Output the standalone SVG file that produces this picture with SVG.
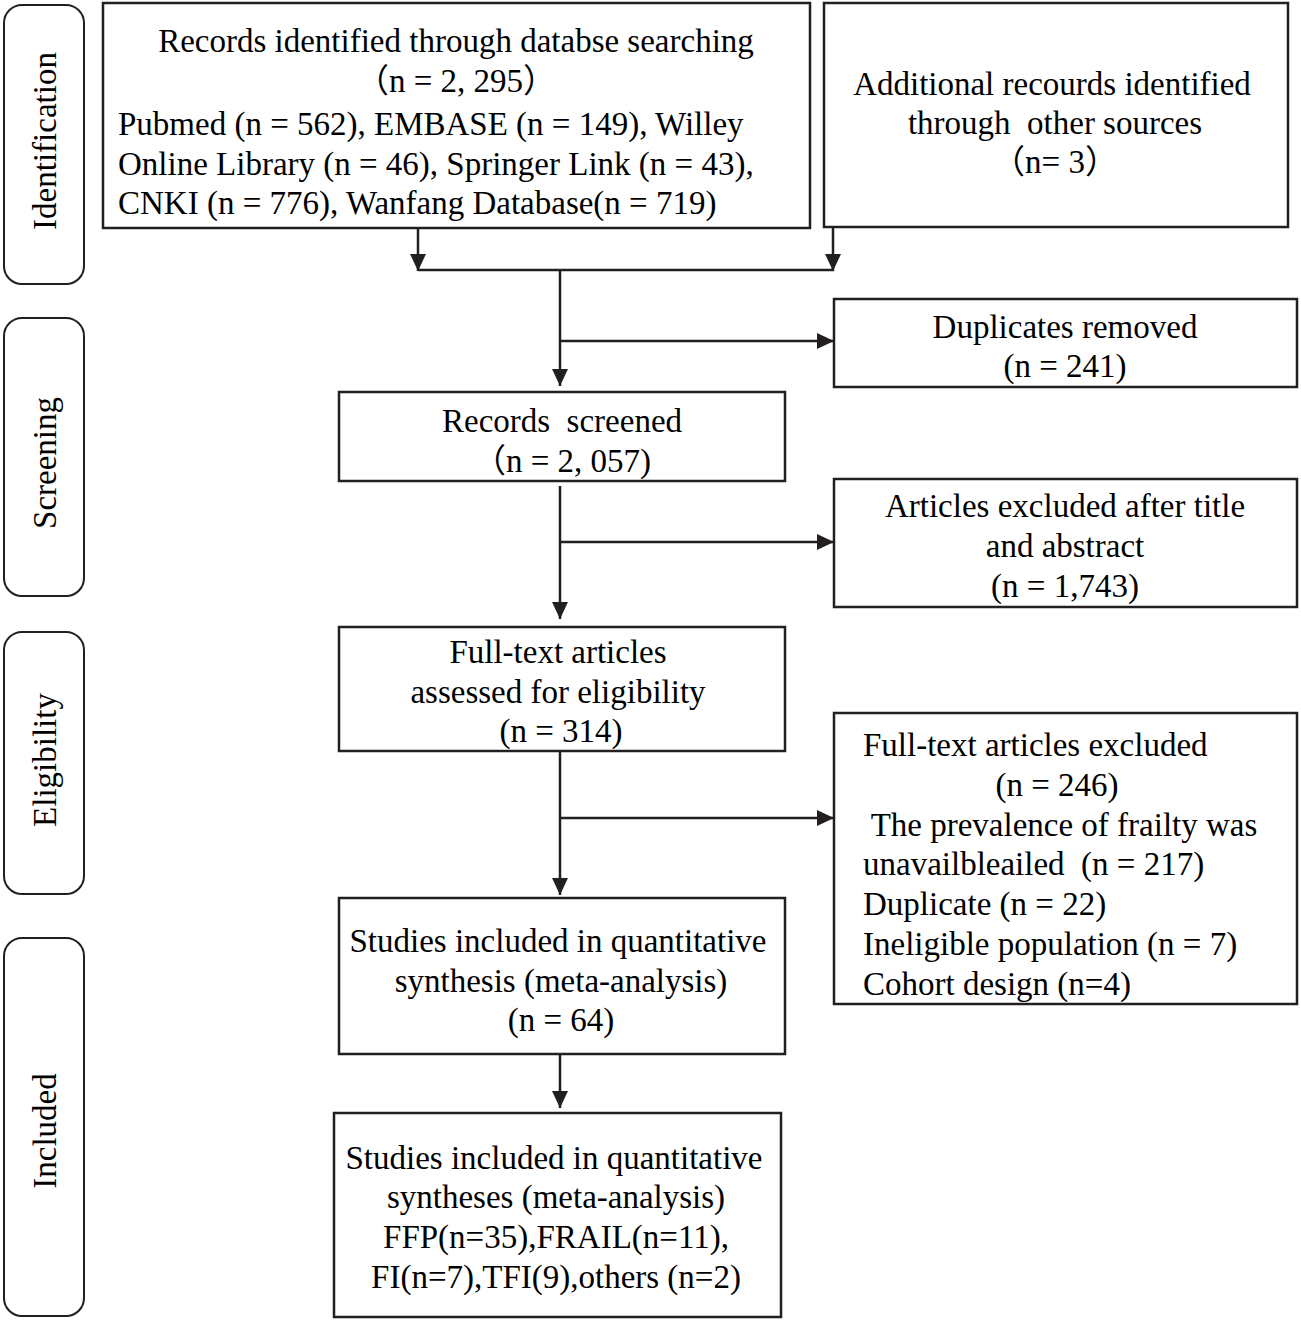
<svg xmlns="http://www.w3.org/2000/svg" width="1301" height="1321" viewBox="0 0 1301 1321">
<style>
.box{fill:#fff;stroke:#231f20;stroke-width:2.5}
.stage{fill:#fff;stroke:#231f20;stroke-width:2}
.t{font-family:"Liberation Serif","Times New Roman","Noto Sans CJK SC",serif;font-size:33px;fill:#000;white-space:pre}
.c{text-anchor:middle}
.ln{stroke:#231f20;stroke-width:2.5;fill:none}
</style>
<defs>
<marker id="ah" markerUnits="userSpaceOnUse" markerWidth="18" markerHeight="18" refX="17" refY="8" orient="auto" viewBox="0 0 18 16">
<path d="M0,0 L17,8 L0,16 z" fill="#231f20"/>
</marker>
</defs>
<rect width="1301" height="1321" fill="#fff"/>

<g id="stage-identification">
<rect class="stage" x="4" y="5" width="80" height="279" rx="18"/>
<text class="t c" transform="translate(56,141) rotate(-90)">Identification</text>
</g>
<g id="stage-screening">
<rect class="stage" x="4" y="318" width="80" height="278" rx="18"/>
<text class="t c" transform="translate(56,463) rotate(-90)">Screening</text>
</g>
<g id="stage-eligibility">
<rect class="stage" x="4" y="632" width="80" height="262" rx="18"/>
<text class="t c" transform="translate(56,760) rotate(-90)">Eligibility</text>
</g>
<g id="stage-included">
<rect class="stage" x="4" y="938" width="80" height="378" rx="18"/>
<text class="t c" transform="translate(56,1131) rotate(-90)">Included</text>
</g>

<g id="connectors">
<line class="ln" x1="418" y1="229" x2="418" y2="271" marker-end="url(#ah)"/>
<line class="ln" x1="833" y1="228" x2="833" y2="271" marker-end="url(#ah)"/>
<line class="ln" x1="418" y1="270" x2="834" y2="270"/>
<line class="ln" x1="560" y1="270" x2="560" y2="386" marker-end="url(#ah)"/>
<line class="ln" x1="560" y1="341" x2="834" y2="341" marker-end="url(#ah)"/>
<line class="ln" x1="560" y1="486" x2="560" y2="619" marker-end="url(#ah)"/>
<line class="ln" x1="560" y1="542" x2="834" y2="542" marker-end="url(#ah)"/>
<line class="ln" x1="560" y1="752" x2="560" y2="895" marker-end="url(#ah)"/>
<line class="ln" x1="560" y1="818" x2="834" y2="818" marker-end="url(#ah)"/>
<line class="ln" x1="560" y1="1055" x2="560" y2="1108" marker-end="url(#ah)"/>
</g>

<g id="node-records-identified">
<rect class="box" x="103" y="3" width="707" height="225"/>
<text class="t c" x="456" y="52">Records identified through databse searching</text>
<text class="t c" x="456" y="92">（n = 2, 295）</text>
<text class="t" x="118" y="135">Pubmed (n = 562), EMBASE (n = 149), Willey</text>
<text class="t" x="118" y="175">Online Library (n = 46), Springer Link (n = 43),</text>
<text class="t" x="118" y="214">CNKI (n = 776), Wanfang Database(n = 719)</text>
</g>

<g id="node-additional">
<rect class="box" x="824" y="3" width="464" height="224"/>
<text class="t c" x="1052" y="95">Additional recourds identified</text>
<text class="t c" x="1055" y="134">through  other sources</text>
<text class="t c" x="1055" y="173">（n= 3）</text>
</g>

<g id="node-duplicates">
<rect class="box" x="834" y="299" width="463" height="88"/>
<text class="t c" x="1065" y="338">Duplicates removed</text>
<text class="t c" x="1065" y="377">(n = 241)</text>
</g>

<g id="node-screened">
<rect class="box" x="339" y="392" width="446" height="89"/>
<text class="t c" x="562" y="432">Records  screened</text>
<text class="t c" x="562" y="472">（n = 2, 057)</text>
</g>

<g id="node-excluded-title">
<rect class="box" x="834" y="479" width="463" height="128"/>
<text class="t c" x="1065" y="517">Articles excluded after title</text>
<text class="t c" x="1065" y="557">and abstract</text>
<text class="t c" x="1065" y="597">(n = 1,743)</text>
</g>

<g id="node-fulltext-assessed">
<rect class="box" x="339" y="627" width="446" height="124"/>
<text class="t c" x="558" y="663">Full-text articles</text>
<text class="t c" x="558" y="703">assessed for eligibility</text>
<text class="t c" x="561" y="742">(n = 314)</text>
</g>

<g id="node-fulltext-excluded">
<rect class="box" x="834" y="713" width="463" height="291"/>
<text class="t" x="863" y="756">Full-text articles excluded</text>
<text class="t c" x="1057" y="796">(n = 246)</text>
<text class="t" x="863" y="836"> The prevalence of frailty was</text>
<text class="t" x="863" y="875">unavailbleailed  (n = 217)</text>
<text class="t" x="863" y="915">Duplicate (n = 22)</text>
<text class="t" x="863" y="955">Ineligible population (n = 7)</text>
<text class="t" x="863" y="995">Cohort design (n=4)</text>
</g>

<g id="node-studies-synthesis">
<rect class="box" x="339" y="898" width="446" height="156"/>
<text class="t c" x="558" y="952">Studies included in quantitative</text>
<text class="t c" x="561" y="992">synthesis (meta-analysis)</text>
<text class="t c" x="561" y="1031">(n = 64)</text>
</g>

<g id="node-studies-syntheses">
<rect class="box" x="334" y="1113" width="447" height="204"/>
<text class="t c" x="554" y="1169">Studies included in quantitative</text>
<text class="t c" x="556" y="1208">syntheses (meta-analysis)</text>
<text class="t c" x="556" y="1248">FFP(n=35),FRAIL(n=11),</text>
<text class="t c" x="556" y="1288">FI(n=7),TFI(9),others (n=2)</text>
</g>
</svg>
